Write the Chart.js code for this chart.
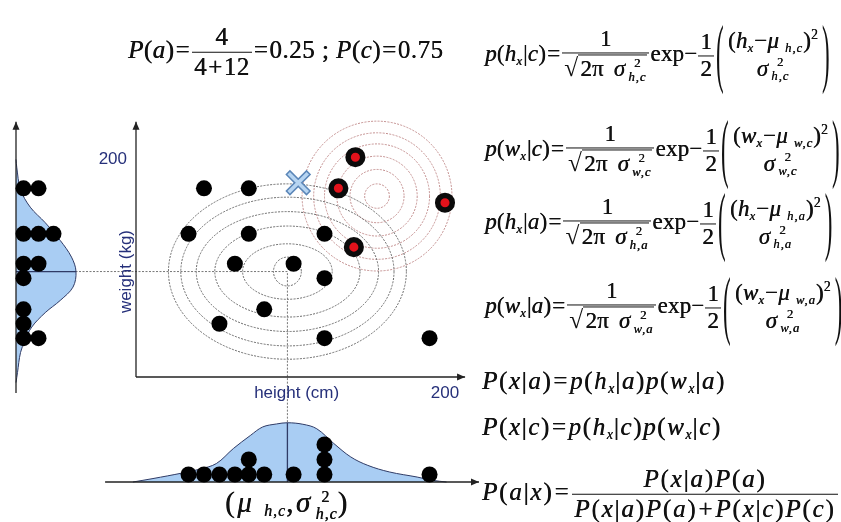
<!DOCTYPE html>
<html>
<head>
<meta charset="utf-8">
<script src="https://cdn.jsdelivr.net/npm/chart.js@4.4.0/dist/chart.umd.min.js"></script>
<style>
  body { margin: 0; background: #fff; }
  #stage { position: relative; width: 841px; height: 522px; overflow: hidden; }
  #bayes { position: absolute; left: 0; top: 0; }
  .eq { position: absolute; white-space: nowrap; transform: translateY(-50%);
        font-family: 'Liberation Serif', 'Times New Roman', serif; font-size: 24px; color: #111;
        line-height: 1.15; letter-spacing: 0.4px; text-shadow: 0.4px 0 0 #111; }
  .eq.gauss { font-size: 23px; letter-spacing: 0.2px; }
  .eq i { font-style: italic; }
  .op { margin: 0 1px; }
  .fr { display: inline-block; vertical-align: middle; text-align: center; margin: 0 1px; }
  .fr > span { display: block; padding: 0 2px; }
  .fr > .n { border-bottom: 1.4px solid #111; }
  .fr.nobar > .n { border-bottom-color: transparent; }
  .ss { display: inline-block; vertical-align: middle; font-size: 0.55em; line-height: 1.1; text-align: center; margin-left: 3px; }
  .ss > span { display: block; }
  .ss > span + span { font-style: italic; letter-spacing: 1px; }
  sub { font-size: 0.55em; font-style: italic; vertical-align: -0.3em; letter-spacing: 1px; }
  sup { font-size: 0.6em; vertical-align: 0.6em; }
  .bp { display: inline-block; vertical-align: middle; transform: scale(1, 3.3); margin: 0 1px; text-shadow: none; }
  .rt .r { border-top: 1.4px solid #111; padding: 1px 1px 0 2px; }
  .sq { font-size: 1.1em; text-shadow: none; }
  .gap { margin-left: 4px; }
</style>
</head>
<body>
<div id="stage">
  <canvas id="bayes" width="490" height="522"></canvas>

  <div class="eq" style="left:128px; top:52px; font-size:25px; letter-spacing:0.5px">
    <i>P</i>(<i>a</i>)<span class="op">=</span><span class="fr"><span class="n">4</span><span class="d">4<span class="op">+</span>12</span></span><span class="op">=</span>0.25 ; <i>P</i>(<i>c</i>)<span class="op">=</span>0.75
  </div>

  <div class="eq gauss" data-v="h" data-k="c" style="left:485px; top:56px"></div>
  <div class="eq gauss" data-v="w" data-k="c" style="left:485px; top:151px"></div>
  <div class="eq gauss" data-v="h" data-k="a" style="left:485px; top:224px"></div>
  <div class="eq gauss" data-v="w" data-k="a" style="left:485px; top:308px"></div>

  <div class="eq" style="left:482px; top:382px; font-size:25px; letter-spacing:1.6px">
    <i>P</i>(<i>x</i>|<i>a</i>)<span class="op">=</span><i>p</i>(<i>h</i><sub>x</sub>|<i>a</i>)<i>p</i>(<i>w</i><sub>x</sub>|<i>a</i>)
  </div>
  <div class="eq" style="left:482px; top:428px; font-size:25px; letter-spacing:1.6px">
    <i>P</i>(<i>x</i>|<i>c</i>)<span class="op">=</span><i>p</i>(<i>h</i><sub>x</sub>|<i>c</i>)<i>p</i>(<i>w</i><sub>x</sub>|<i>c</i>)
  </div>
  <div class="eq" style="left:482px; top:494px; font-size:25px; letter-spacing:1.8px">
    <i>P</i>(<i>a</i>|<i>x</i>)<span class="op">=</span><span class="fr"><span class="n"><i>P</i>(<i>x</i>|<i>a</i>)<i>P</i>(<i>a</i>)</span><span class="d"><i>P</i>(<i>x</i>|<i>a</i>)<i>P</i>(<i>a</i>)<span class="op">+</span><i>P</i>(<i>x</i>|<i>c</i>)<i>P</i>(<i>c</i>)</span></span>
  </div>

  <div class="eq" style="left:225px; top:504px; font-size:29px; letter-spacing:2.5px">
    (<i>μ</i> <sub>h,c</sub>,<i>σ</i><span class="ss"><span>2</span><span>h,c</span></span>)
  </div>
</div>

<script>
// class c (12 samples) and class a (4 samples): height in cm, weight in kg
const cHeights = [44, 73, 34, 73, 122, 64, 102, 122, 83, 54, 122, 190];
const cWeights = [170, 170, 129, 129, 129, 102, 102, 89, 61, 48, 35, 35];
const aHeights = [142, 131, 200, 141];
const aWeights = [198, 170, 157, 117];
const queryPoint = [{x: 105, y: 175}];

// class means and the radii of the iso-density contours
const cMean = {h: 98, w: 95};
const aMean = {h: 156, w: 163};
const cRingsH = [9, 29, 47, 59, 69, 77];
const cRingsW = [13, 25, 41, 54, 67, 79];
const aRingsH = [8, 17.5, 26, 34, 41, 48.5];
const aRingsW = [11, 24, 36, 47, 57, 67.5];

// marginal densities of class c (in dot-stack units)
const weightCurveW = [196, 189, 169, 153, 139, 123, 108, 95, 81, 69, 58, 45, 33, 22, 4, -5];
const weightCurveD = [0, 0.05, 0.3, 0.95, 1.95, 2.95, 3.7, 4.0, 3.8, 2.95, 1.95, 1.05, 0.6, 0.3, 0.1, 0];
const heightCurveH = [-2, 11, 30, 41, 52, 63, 74, 82, 91, 98, 108, 117, 128, 139, 150, 164, 182, 192, 201];
const heightCurveD = [0, 0.23, 0.6, 0.85, 1.23, 2.23, 3.1, 3.67, 3.87, 3.95, 3.85, 3.55, 2.57, 1.67, 1.11, 0.67, 0.33, 0.11, 0];

const axisTicks = [200];

// canvas layout
const W = 490, H = 522;
const ORIGIN_X = 136, ORIGIN_Y = 377;
const PX_PER_CM = 1.545, PX_PER_KG = 1.11;
const LEFT_AXIS_X = 16, BOTTOM_AXIS_Y = 482, PX_PER_DOT = 15;
const reach = {mainTop: 230, mainRight: 213, leftBottom: -14.5, bottomLeft: -20, bottomRight: 222};

const INK = '#26307a';
const CURVE_FILL = '#a9cdf3';
const CURVE_LINE = '#2f3b66';

// stack repeated values: nth occurrence goes one dot further out
function stack(values) {
  const seen = {};
  return values.map(v => {
    seen[v] = (seen[v] || 0) + 1;
    return {v, k: seen[v]};
  });
}

function zip(xs, ys) {
  return xs.map((x, i) => ({x, y: ys[i]}));
}

function drawContours(ctx, sx, sy, mean, ringsH, ringsW, color) {
  const cx = sx.getPixelForValue(mean.h), cy = sy.getPixelForValue(mean.w);
  ctx.strokeStyle = color;
  ctx.lineWidth = 1;
  ctx.setLineDash([2, 1.3]);
  ringsH.forEach((rh, i) => {
    const rx = Math.abs(sx.getPixelForValue(mean.h + rh) - cx);
    const ry = Math.abs(sy.getPixelForValue(mean.w + ringsW[i]) - cy);
    ctx.beginPath();
    ctx.ellipse(cx, cy, rx, ry, 0, 0, Math.PI * 2);
    ctx.stroke();
  });
  ctx.setLineDash([]);
}

function arrow(ctx, x1, y1, x2, y2) {
  ctx.beginPath();
  ctx.moveTo(x1, y1);
  ctx.lineTo(x2, y2);
  ctx.stroke();
  const a = Math.atan2(y2 - y1, x2 - x1), len = 8, half = 3.5;
  ctx.beginPath();
  ctx.moveTo(x2, y2);
  ctx.lineTo(x2 - len * Math.cos(a) + half * Math.sin(a), y2 - len * Math.sin(a) - half * Math.cos(a));
  ctx.lineTo(x2 - len * Math.cos(a) - half * Math.sin(a), y2 - len * Math.sin(a) + half * Math.cos(a));
  ctx.closePath();
  ctx.fill();
}

const overlay = {
  id: 'overlay',
  beforeDatasetsDraw(chart) {
    const {ctx, scales: {x, y, xL, yB}} = chart;
    ctx.save();
    drawContours(ctx, x, y, aMean, aRingsH, aRingsW, '#c38f8f');
    drawContours(ctx, x, y, cMean, cRingsH, cRingsW, '#6a6a6a');

    // guides from the class c mean out to both marginal axes
    const mx = x.getPixelForValue(cMean.h), my = y.getPixelForValue(cMean.w);
    ctx.strokeStyle = '#777';
    ctx.lineWidth = 1;
    ctx.setLineDash([2, 1.5]);
    ctx.beginPath();
    ctx.moveTo(xL.getPixelForValue(0), my);
    ctx.lineTo(mx, my);
    ctx.lineTo(mx, yB.getPixelForValue(0));
    ctx.stroke();
    ctx.restore();
  },
  afterDatasetDraw(chart, args) {
    if (args.index !== 3) return;
    const {ctx, scales: {x, y, xL, yB}} = chart;
    ctx.save();
    ctx.strokeStyle = '#222';
    ctx.fillStyle = '#222';
    ctx.lineWidth = 1.3;
    const ox = x.getPixelForValue(0), oy = y.getPixelForValue(0);
    arrow(ctx, ox, oy, ox, y.getPixelForValue(reach.mainTop));
    arrow(ctx, ox, oy, x.getPixelForValue(reach.mainRight), oy);
    const lx = xL.getPixelForValue(0);
    arrow(ctx, lx, y.getPixelForValue(reach.leftBottom), lx, y.getPixelForValue(reach.mainTop));
    const by = yB.getPixelForValue(0);
    arrow(ctx, x.getPixelForValue(reach.bottomLeft), by, x.getPixelForValue(reach.bottomRight), by);
    ctx.restore();
  },
  afterDraw(chart) {
    const {ctx, scales: {x, y}} = chart;
    const ox = x.getPixelForValue(0), oy = y.getPixelForValue(0);
    ctx.save();
    ctx.fillStyle = INK;
    ctx.font = '17px "Liberation Sans", Arial, sans-serif';
    ctx.textBaseline = 'middle';
    ctx.textAlign = 'right';
    ctx.fillText(String(axisTicks[0]), ox - 9, y.getPixelForValue(axisTicks[0]) + 4);
    ctx.textAlign = 'center';
    ctx.fillText(String(axisTicks[0]), x.getPixelForValue(axisTicks[0]), oy + 16);
    ctx.fillText('height (cm)', x.getPixelForValue(104), oy + 16);
    ctx.translate(ox - 10, y.getPixelForValue(cMean.w));
    ctx.rotate(-Math.PI / 2);
    ctx.fillText('weight (kg)', 0, 0);
    ctx.restore();
  }
};

const weightPeak = Math.max(...weightCurveD);
const heightPeak = Math.max(...heightCurveD);

new Chart(document.getElementById('bayes'), {
  type: 'scatter',
  data: {
    datasets: [
      // weight marginal, drawn sideways against the left axis
      {
        type: 'line', indexAxis: 'y', xAxisID: 'xL', yAxisID: 'y', order: 7,
        data: zip(weightCurveD, weightCurveW),
        borderColor: CURVE_LINE, borderWidth: 1, backgroundColor: CURVE_FILL,
        fill: 'origin', tension: 0.35, pointRadius: 0
      },
      // height marginal under the main plot
      {
        type: 'line', xAxisID: 'x', yAxisID: 'yB', order: 6,
        data: zip(heightCurveH, heightCurveD),
        borderColor: CURVE_LINE, borderWidth: 1, backgroundColor: CURVE_FILL,
        fill: 'origin', tension: 0.35, pointRadius: 0
      },
      {
        type: 'line', xAxisID: 'xL', yAxisID: 'y', order: 5,
        data: [{x: 0, y: cMean.w}, {x: weightPeak, y: cMean.w}],
        borderColor: CURVE_LINE, borderWidth: 1.3, pointRadius: 0
      },
      {
        type: 'line', xAxisID: 'x', yAxisID: 'yB', order: 4,
        data: [{x: cMean.h, y: 0}, {x: cMean.h, y: heightPeak}],
        borderColor: CURVE_LINE, borderWidth: 1.3, pointRadius: 0
      },
      {
        xAxisID: 'xL', yAxisID: 'y', order: 3,
        data: stack(cWeights).map(({v, k}) => ({x: k - 0.5, y: v})),
        pointRadius: 8, backgroundColor: '#000', borderWidth: 0
      },
      {
        xAxisID: 'x', yAxisID: 'yB', order: 3,
        data: stack(cHeights).map(({v, k}) => ({x: v, y: k - 0.5})),
        pointRadius: 8, backgroundColor: '#000', borderWidth: 0
      },
      {
        label: 'c', order: 3,
        data: zip(cHeights, cWeights),
        pointRadius: 8, backgroundColor: '#000', borderWidth: 0
      },
      {
        label: 'a', order: 2,
        data: zip(aHeights, aWeights),
        pointRadius: 7.3, backgroundColor: '#e3121b', borderColor: '#0b0b0b', borderWidth: 5.5
      },
      {
        label: 'x', order: 1, data: queryPoint,
        pointStyle: 'crossRot', pointRadius: 15, borderColor: '#5b86b8', borderWidth: 6.5
      },
      {
        order: 0, data: queryPoint,
        pointStyle: 'crossRot', pointRadius: 13.5, borderColor: '#b7d5f2', borderWidth: 3.5
      }
    ]
  },
  options: {
    responsive: false,
    animation: false,
    events: [],
    devicePixelRatio: 1,
    layout: {padding: 0, autoPadding: false},
    plugins: {legend: {display: false}, tooltip: {enabled: false}},
    scales: {
      x: {type: 'linear', display: false, min: -ORIGIN_X / PX_PER_CM, max: (W - ORIGIN_X) / PX_PER_CM},
      y: {type: 'linear', display: false, min: -(H - ORIGIN_Y) / PX_PER_KG, max: ORIGIN_Y / PX_PER_KG},
      xL: {type: 'linear', axis: 'x', display: false, min: -LEFT_AXIS_X / PX_PER_DOT, max: (W - LEFT_AXIS_X) / PX_PER_DOT},
      yB: {type: 'linear', axis: 'y', display: false, min: -(H - BOTTOM_AXIS_Y) / PX_PER_DOT, max: BOTTOM_AXIS_Y / PX_PER_DOT}
    }
  },
  plugins: [overlay]
});

// the four Gaussian likelihoods share one layout
function gaussHTML(v, k) {
  const sig = `<i>σ</i><span class="ss"><span>2</span><span>${v},${k}</span></span>`;
  return `<i>p</i>(<i>${v}</i><sub>x</sub>|<i>${k}</i>)<span class="op">=</span>` +
    `<span class="fr"><span class="n">1</span><span class="d"><span class="rt"><span class="sq">√</span><span class="r">2π <span class="gap"></span>${sig}</span></span></span></span>` +
    `exp−<span class="fr"><span class="n">1</span><span class="d">2</span></span>` +
    `<span class="bp">(</span><span class="fr nobar"><span class="n">(<i>${v}</i><sub>x</sub>−<i>μ</i> <sub>${v},${k}</sub>)<sup>2</sup></span>` +
    `<span class="d">${sig}</span></span><span class="bp">)</span>`;
}
document.querySelectorAll('.gauss').forEach(el => {
  el.innerHTML = gaussHTML(el.dataset.v, el.dataset.k);
});
</script>
</body>
</html>
